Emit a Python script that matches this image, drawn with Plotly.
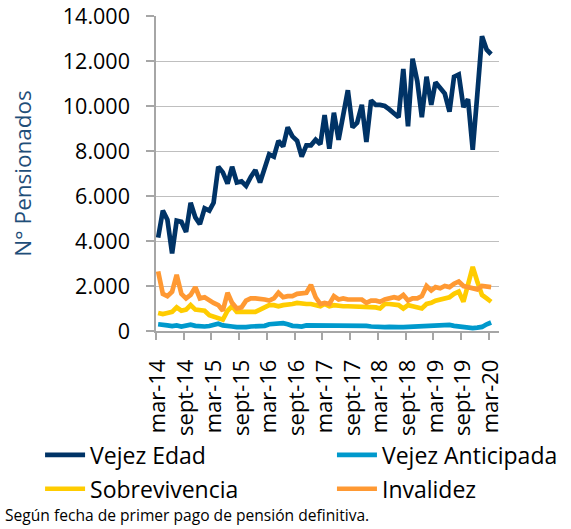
import pandas as pd
import plotly.graph_objects as go

# Monthly data, mar-2014 .. mar-2020 (73 months)
months = pd.date_range("2014-03-01", "2020-03-01", freq="MS")

vejez_edad = [4150, 5350, 4950, 3450, 4900, 4850, 4400, 5700, 5050, 4750,
              5450, 5350, 5700, 7300, 7050, 6550, 7300, 6600, 6650, 6450,
              6850, 7150, 6600, 7300, 7850, 7750, 8450, 8200, 9050, 8650,
              8450, 7750, 8250, 8250, 8500, 8300, 9600, 8100, 9700, 8500,
              9500, 10700, 9050, 9250, 10050, 8400, 10250, 10050, 10050, 10000,
              9850, 9700, 9500, 11650, 9100, 12100, 11100, 9500, 11300, 10050,
              11050, 10800, 10550, 9750, 11300, 11400, 9950, 10300, 8050, 10500,
              13100, 12500, 12300]

vejez_anticipada = [300, 250, 250, 220, 250, 200, 230, 280, 230, 200,
                    200, 220, 250, 320, 250, 200, 200, 170, 150, 170,
                    200, 200, 220, 230, 300, 330, 350, 350, 300, 230,
                    220, 200, 250, 250, 220, 220, 250, 220, 230, 250,
                    260, 250, 220, 210, 220, 230, 200, 180, 170, 170,
                    180, 200, 170, 170, 180, 200, 180, 200, 220, 250,
                    240, 270, 250, 270, 230, 200, 150, 130, 130, 150,
                    180, 300, 380]

sobrevivencia = [800, 750, 800, 850, 1050, 900, 950, 1150, 950, 900,
                 900, 700, 650, 600, 500, 900, 1100, 850, 850, 850,
                 850, 850, 950, 1050, 1150, 1150, 1100, 1150, 1150, 1200,
                 1250, 1200, 1200, 1200, 1150, 1100, 1200, 1100, 1150, 1100,
                 1100, 1100, 1100, 1100, 1050, 1100, 1050, 1050, 1000, 1200,
                 1200, 1150, 1150, 1000, 1150, 1100, 1050, 1000, 1200, 1250,
                 1350, 1400, 1400, 1500, 1650, 1750, 1300, 2000, 2850, 2200,
                 1600, 1450, 1300]

invalidez = [2650, 1650, 1550, 1750, 2500, 1650, 1450, 1600, 1950, 1450,
             1500, 1350, 1250, 1150, 900, 1700, 1250, 1000, 1050, 1350,
             1450, 1450, 1450, 1400, 1350, 1450, 1700, 1500, 1550, 1550,
             1650, 1650, 1700, 2050, 1500, 1200, 1250, 1200, 1550, 1400,
             1450, 1400, 1400, 1400, 1400, 1250, 1350, 1350, 1300, 1400,
             1450, 1500, 1450, 1600, 1350, 1450, 1450, 1550, 2000, 1800,
             1950, 1900, 2000, 1950, 2100, 2200, 2000, 1950, 1950, 1850,
             2000, 1950, 1950]

tick_dates = pd.date_range("2014-03-01", "2020-03-01", freq="6MS")
tick_labels = ["mar-14", "sept-14", "mar-15", "sept-15", "mar-16", "sept-16",
               "mar-17", "sept-17", "mar-18", "sept-18", "mar-19", "sept-19",
               "mar-20"]

y_ticks = [0, 2000, 4000, 6000, 8000, 10000, 12000, 14000]

FONT = "Open Sans"
x_mid = months + pd.Timedelta(days=14)

# (name, values, colour, legend, rank) ; drawn in this order
series = [
    ("Vejez Anticipada", vejez_anticipada, "#0099CC", "legend2", 1),
    ("Sobrevivencia", sobrevivencia, "#FFCC00", "legend", 2),
    ("Invalidez", invalidez, "#FF9933", "legend2", 2),
    ("Vejez Edad", vejez_edad, "#003366", "legend", 1),
]

fig = go.Figure()
for name, vals, col, leg, rank in series:
    fig.add_trace(go.Scatter(x=x_mid, y=vals, name=name, mode="lines",
                             legend=leg, legendrank=rank, legendgroup=name,
                             line=dict(color=col, width=4.7)))

leg_common = dict(orientation="v", xanchor="left", yanchor="top",
                  font=dict(family=FONT, size=23, color="black"),
                  tracegroupgap=1, bgcolor="rgba(0,0,0,0)", itemwidth=40)

fig.update_layout(
    width=571, height=529,
    margin=dict(l=156, r=72, t=16, b=198, autoexpand=False),
    paper_bgcolor="white", plot_bgcolor="white",
    separators=",.",
    font=dict(family=FONT, size=21, color="black"),
    showlegend=True,
    legend=dict(x=-0.338, y=-0.325, **leg_common),
    legend2=dict(x=0.513, y=-0.325, **leg_common),
    annotations=[dict(text="Según fecha de primer pago de pensión definitiva.",
                      xref="paper", yref="paper", x=-0.446, y=-0.585,
                      xanchor="left", yanchor="middle", showarrow=False,
                      font=dict(family=FONT, size=15.6, color="black"))],
)

fig.update_xaxes(
    type="date", range=["2014-03-01", "2020-05-06"],
    tickvals=tick_dates, ticktext=tick_labels, tickangle=-90,
    ticks="outside", ticklen=7, tickcolor="#A6A6A6", tickwidth=1.5,
    showline=True, linecolor="#A6A6A6", linewidth=1.5,
    showgrid=False, zeroline=False, automargin=False,
    ticklabelstandoff=11, ticklabelshift=2,
    tickfont=dict(family=FONT, size=22, color="black"),
)
fig.update_yaxes(
    range=[0, 14000], tickvals=y_ticks, tickformat=",d",
    ticks="outside", ticklen=8, tickcolor="#A6A6A6", tickwidth=1.5,
    showline=True, linecolor="#A6A6A6", linewidth=1.5,
    showgrid=True, gridcolor="#BFBFBF", gridwidth=1.3, zeroline=False,
    automargin=False, ticklabelstandoff=12,
    tickfont=dict(family=FONT, size=21.5, color="black"),
    title=dict(text="N° Pensionados", standoff=25,
               font=dict(family=FONT, size=22.5, color="#1F4E79")),
)

fig.write_html("out.html", config={"displayModeBar": False},
               post_script="document.body.style.margin='0';")
